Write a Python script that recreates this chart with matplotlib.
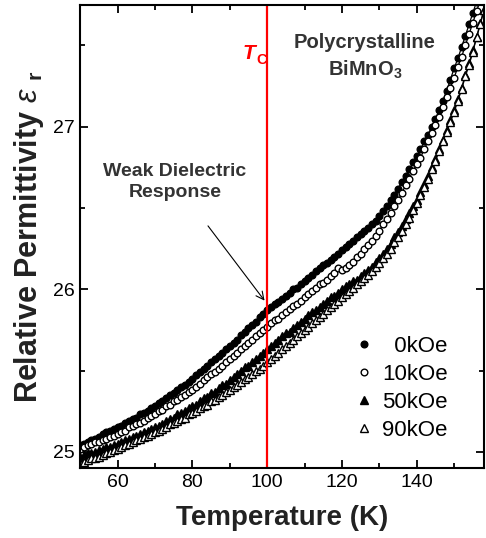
import matplotlib
matplotlib.use('Agg')
import matplotlib.pyplot as plt
from matplotlib.ticker import MultipleLocator

plt.rcParams['font.family'] = ['Liberation Sans', 'DejaVu Sans']
plt.rcParams['mathtext.fontset'] = 'custom'
plt.rcParams['mathtext.it'] = 'Liberation Sans:italic'
plt.rcParams['mathtext.rm'] = 'Liberation Sans'

# ── data ────────────────────────────────────────────────
temp = [50, 51, 52, 53, 54, 55, 56, 57, 58, 59,
        60, 61, 62, 63, 64, 65, 66, 67, 68, 69,
        70, 71, 72, 73, 74, 75, 76, 77, 78, 79,
        80, 81, 82, 83, 84, 85, 86, 87, 88, 89,
        90, 91, 92, 93, 94, 95, 96, 97, 98, 99,
        100, 101, 102, 103, 104, 105, 106, 107, 108, 109,
        110, 111, 112, 113, 114, 115, 116, 117, 118, 119,
        120, 121, 122, 123, 124, 125, 126, 127, 128, 129,
        130, 131, 132, 133, 134, 135, 136, 137, 138, 139,
        140, 141, 142, 143, 144, 145, 146, 147, 148, 149,
        150, 151, 152, 153, 154, 155, 156, 157, 158]

eps_0k = [25.04, 25.05, 25.06, 25.07, 25.08, 25.09, 25.11, 25.12, 25.13, 25.14,
          25.15, 25.16, 25.18, 25.19, 25.20, 25.21, 25.23, 25.24, 25.25, 25.27,
          25.28, 25.30, 25.31, 25.33, 25.35, 25.36, 25.38, 25.40, 25.41, 25.43,
          25.45, 25.47, 25.49, 25.51, 25.53, 25.55, 25.57, 25.59, 25.61, 25.63,
          25.65, 25.67, 25.69, 25.72, 25.74, 25.76, 25.78, 25.80, 25.83, 25.85,
          25.87, 25.89, 25.91, 25.92, 25.94, 25.96, 25.98, 26.00, 26.01, 26.03,
          26.05, 26.07, 26.09, 26.11, 26.13, 26.15, 26.16, 26.18, 26.20, 26.22,
          26.24, 26.26, 26.28, 26.30, 26.32, 26.34, 26.36, 26.38, 26.40, 26.42,
          26.45, 26.48, 26.51, 26.55, 26.58, 26.62, 26.66, 26.70, 26.74, 26.78,
          26.82, 26.86, 26.91, 26.95, 27.00, 27.05, 27.10, 27.16, 27.22, 27.29,
          27.36, 27.42, 27.49, 27.56, 27.63, 27.70, 27.77]

eps_10k = [25.02, 25.03, 25.04, 25.05, 25.06, 25.06, 25.07, 25.08, 25.09, 25.10,
           25.11, 25.12, 25.13, 25.15, 25.16, 25.17, 25.18, 25.19, 25.21, 25.22,
           25.23, 25.25, 25.26, 25.28, 25.29, 25.31, 25.32, 25.34, 25.35, 25.37,
           25.38, 25.40, 25.42, 25.44, 25.46, 25.48, 25.49, 25.51, 25.53, 25.55,
           25.57, 25.59, 25.61, 25.63, 25.65, 25.67, 25.69, 25.71, 25.73, 25.75,
           25.77, 25.79, 25.81, 25.82, 25.84, 25.86, 25.88, 25.90, 25.91, 25.93,
           25.95, 25.97, 25.99, 26.01, 26.03, 26.04, 26.06, 26.08, 26.10, 26.13,
           26.12, 26.13, 26.15, 26.17, 26.20, 26.22, 26.25, 26.27, 26.30, 26.33,
           26.36, 26.40, 26.43, 26.47, 26.51, 26.55, 26.59, 26.64, 26.68, 26.73,
           26.77, 26.81, 26.86, 26.91, 26.96, 27.01, 27.06, 27.12, 27.18, 27.24,
           27.30, 27.37, 27.43, 27.50, 27.57, 27.64, 27.71, 27.78]

eps_50k = [24.97, 24.98, 24.99, 24.99, 25.00, 25.01, 25.02, 25.03, 25.03, 25.04,
           25.05, 25.06, 25.07, 25.08, 25.09, 25.10, 25.11, 25.12, 25.13, 25.14,
           25.15, 25.16, 25.17, 25.19, 25.20, 25.21, 25.23, 25.24, 25.25, 25.27,
           25.28, 25.29, 25.31, 25.33, 25.34, 25.36, 25.37, 25.39, 25.41, 25.42,
           25.44, 25.46, 25.48, 25.50, 25.52, 25.53, 25.55, 25.57, 25.59, 25.61,
           25.63, 25.65, 25.67, 25.69, 25.71, 25.73, 25.74, 25.76, 25.78, 25.80,
           25.82, 25.84, 25.86, 25.87, 25.89, 25.91, 25.93, 25.95, 25.96, 25.98,
           26.00, 26.02, 26.03, 26.05, 26.06, 26.08, 26.10, 26.12, 26.14, 26.17,
           26.19, 26.22, 26.25, 26.28, 26.32, 26.35, 26.39, 26.43, 26.47, 26.51,
           26.55, 26.60, 26.65, 26.70, 26.75, 26.80, 26.86, 26.92, 26.98, 27.04,
           27.10, 27.17, 27.24, 27.32, 27.39, 27.47, 27.55, 27.64, 27.72]

eps_90k = [24.93, 24.94, 24.95, 24.96, 24.96, 24.97, 24.98, 24.99, 25.00, 25.01,
           25.02, 25.03, 25.04, 25.05, 25.06, 25.07, 25.08, 25.09, 25.10, 25.11,
           25.12, 25.13, 25.14, 25.15, 25.17, 25.18, 25.19, 25.20, 25.21, 25.23,
           25.24, 25.25, 25.27, 25.28, 25.29, 25.31, 25.32, 25.34, 25.35, 25.37,
           25.38, 25.40, 25.41, 25.43, 25.45, 25.46, 25.48, 25.50, 25.51, 25.53,
           25.55, 25.57, 25.59, 25.61, 25.63, 25.65, 25.67, 25.69, 25.71, 25.73,
           25.75, 25.77, 25.79, 25.81, 25.83, 25.85, 25.87, 25.89, 25.91, 25.93,
           25.95, 25.97, 25.99, 26.01, 26.03, 26.05, 26.07, 26.09, 26.11, 26.14,
           26.16, 26.19, 26.22, 26.25, 26.29, 26.32, 26.36, 26.40, 26.44, 26.49,
           26.53, 26.58, 26.63, 26.68, 26.74, 26.79, 26.85, 26.91, 26.97, 27.03,
           27.09, 27.16, 27.23, 27.31, 27.38, 27.46, 27.55, 27.63, 27.72]

series = [('0kOe', eps_0k, 'o', 'black'),
          ('10kOe', eps_10k, 'o', 'white'),
          ('50kOe', eps_50k, '^', 'black'),
          ('90kOe', eps_90k, '^', 'white')]
legend_labels = ['  0kOe', '10kOe', '50kOe', '90kOe']
T_c = 100

# ── figure ─────────────────────────────────────────────
fig = plt.figure(figsize=(4.86, 5.38), dpi=100)
ax = fig.add_axes([0.165, 0.130, 0.831, 0.861])

handles = []
for (name, eps, mk, fc) in series:
    n = len(eps)
    ax.plot(temp[:n], eps, color='black', lw=0.9)
    h, = ax.plot(temp[:n], eps, ls='none', marker=mk, ms=4.8 if mk == 'o' else 5.2,
                 mfc=fc, mec='black', mew=1.0)
    handles.append(h)

ax.axvline(T_c, color='red', lw=1.6)

ax.set_xlim(50, 158)
ax.set_ylim(24.9, 27.75)
ax.xaxis.set_major_locator(MultipleLocator(20))
ax.xaxis.set_minor_locator(MultipleLocator(10))
ax.yaxis.set_major_locator(MultipleLocator(1))
ax.yaxis.set_minor_locator(MultipleLocator(0.5))
ax.tick_params(which='both', direction='in', top=True, right=True,
               width=1.3, labelsize=14, pad=4)
ax.tick_params(which='major', length=6)
ax.tick_params(which='minor', length=3.5)
for s in ax.spines.values():
    s.set_linewidth(1.5)

ax.set_xlabel('Temperature (K)', fontsize=20, fontweight='bold', labelpad=10,
              color='#222222')
ax.set_ylabel(r'Relative Permittivity $\varepsilon$ $_{\mathregular{r}}$', fontsize=22,
              fontweight='bold', labelpad=5, color='#222222')

# T_C label next to the red line
ax.text(96.8, 27.45, 'T', color='red', fontsize=15,
        fontweight='bold', style='italic', ha='right', va='center')
ax.text(97.0, 27.41, 'C', color='red', fontsize=10.5,
        fontweight='bold', ha='left', va='center')

ax.text(0.705, 0.94, 'Polycrystalline\nBiMnO$_\\mathregular{3}$', transform=ax.transAxes,
        fontsize=14.5, fontweight='bold', color='#333333', ha='center', va='top',
        linespacing=1.4)

ax.annotate('Weak Dielectric\nResponse', xy=(99.3, 25.93), xytext=(75.3, 26.66),
            fontsize=14, fontweight='bold', color='#333333', ha='center', va='center',
            linespacing=1.3,
            arrowprops=dict(arrowstyle='->', color='black', lw=0.8,
                            shrinkA=20, shrinkB=0))

ax.legend(handles, legend_labels, loc='lower right', bbox_to_anchor=(0.96, 0.015),
          frameon=False, fontsize=16, handlelength=0.6, handletextpad=0.5,
          labelspacing=0.32, markerscale=1.0)

fig.savefig('out.png', dpi=100)
